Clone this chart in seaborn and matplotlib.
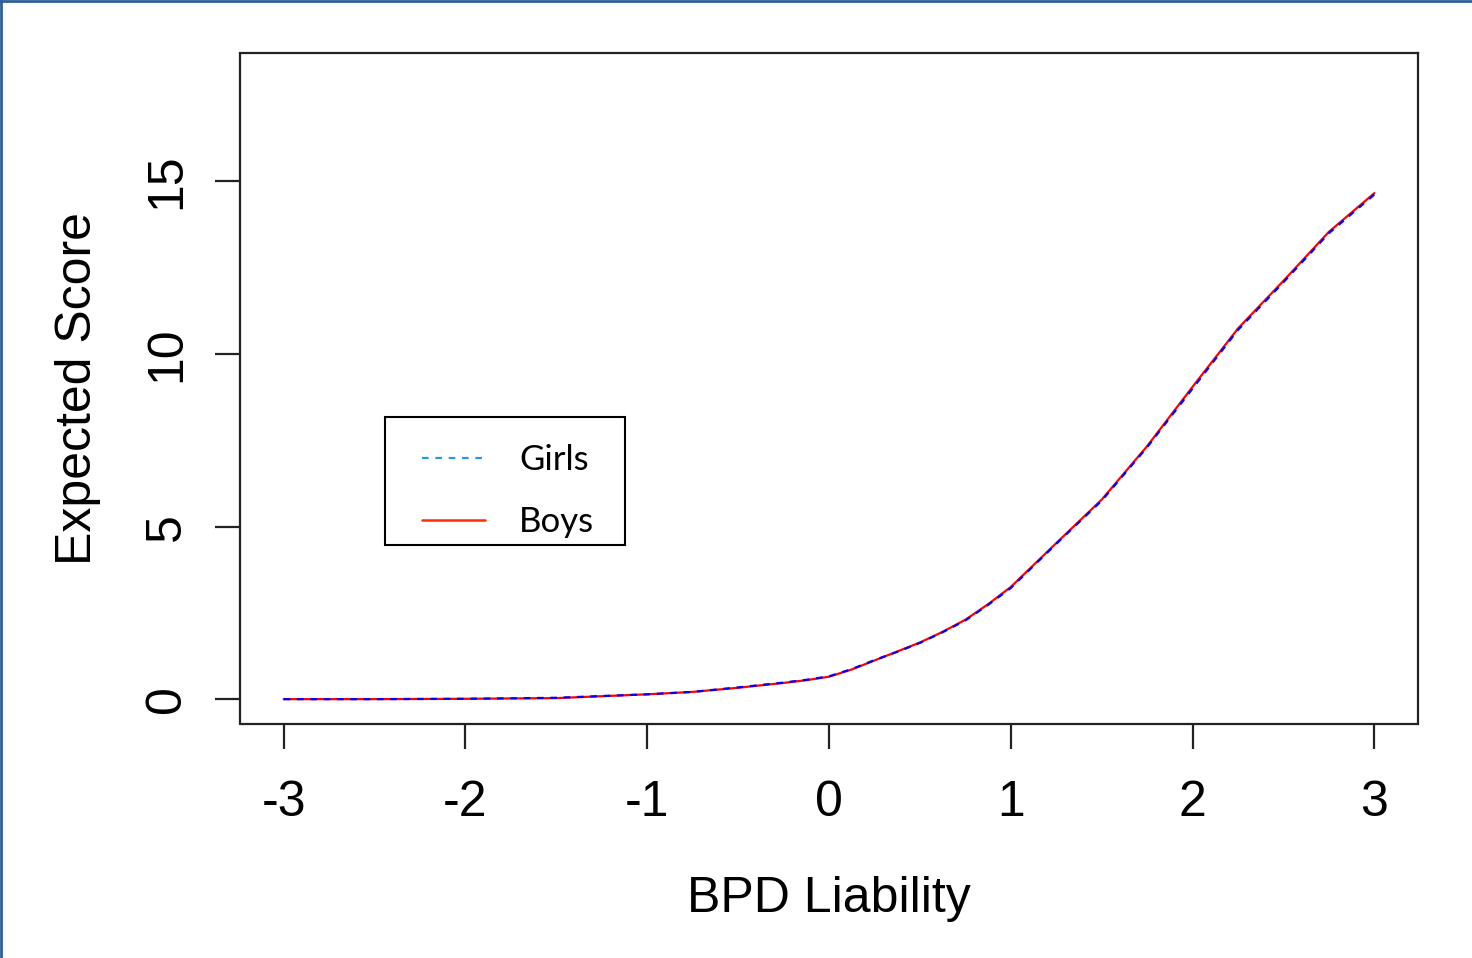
import pandas as pd
import matplotlib.pyplot as plt
import seaborn as sns
from matplotlib.lines import Line2D
from matplotlib.patches import Rectangle

sns.set_style("white")
plt.rcParams['font.family'] = ['Liberation Sans', 'DejaVu Sans']
plt.rcParams['text.color'] = 'black'
plt.rcParams['axes.labelcolor'] = 'black'
plt.rcParams['xtick.color'] = 'black'
plt.rcParams['ytick.color'] = 'black'

# Data
liability = [-3, -2.5, -2, -1.5, -1, -0.75, -0.5, -0.25, -0.125, 0, 0.125, 0.25,
             0.375, 0.5, 0.625, 0.75, 0.875, 1, 1.25, 1.5, 1.75, 2, 2.25, 2.5,
             2.75, 3]
boys = [0, 0, 0.01, 0.03, 0.14, 0.21, 0.33, 0.47, 0.55, 0.65, 0.86, 1.12,
        1.38, 1.64, 1.95, 2.3, 2.75, 3.25, 4.52, 5.78, 7.33, 9.05, 10.74, 12.12,
        13.54, 14.66]
girls = [0, 0, 0.01, 0.04, 0.14, 0.21, 0.34, 0.48, 0.56, 0.66, 0.87, 1.13,
         1.37, 1.63, 1.94, 2.28, 2.73, 3.22, 4.5, 5.75, 7.3, 9.0, 10.7, 12.08,
         13.5, 14.62]

df = pd.DataFrame({'x': liability, 'Boys': boys, 'Girls': girls})

fig = plt.figure(figsize=(14.72, 9.58), dpi=100)
ax = fig.add_axes([240/1472, 1-724/958, (1418-240)/1472, (724-53)/958])

sns.lineplot(data=df, x='x', y='Boys', ax=ax, color='#ff0000', linewidth=1.6)
sns.lineplot(data=df, x='x', y='Girls', ax=ax, color='#0000ff', linewidth=1.6,
             linestyle=(0, (3, 3)))

ax.set_xlim(-3.24, 3.24)
ax.set_ylim(-0.72, 18.72)
ax.set_xticks([-3, -2, -1, 0, 1, 2, 3])
ax.set_yticks([0, 5, 10, 15])
ax.set_xticklabels(['-3', '-2', '-1', '0', '1', '2', '3'])
ax.set_yticklabels(['0', '5', '10', '15'], rotation=90, va='center')

for s in ax.spines.values():
    s.set_color('#222222')
    s.set_linewidth(1.6)
ax.spines['bottom'].set_visible(False)
ax.spines['left'].set_visible(False)
ax.plot([-3.24, 3.24], [-0.72, -0.72], color='#222222', lw=1.6, clip_on=False)
ax.plot([-3.24, -3.24], [-0.72, 18.72], color='#222222', lw=1.6, clip_on=False)

ax.tick_params(axis='both', direction='out', length=18, width=1.6,
               color='#222222', labelsize=36, bottom=True, left=True)
ax.tick_params(axis='x', pad=22)
ax.tick_params(axis='y', pad=18)
ax.set_xlabel('BPD Liability', fontsize=36, labelpad=36)
ax.set_ylabel('Expected Score', fontsize=36, labelpad=31)

# legend (pasted box in the original, Calibri-like font)
ax.add_patch(Rectangle((385/1472, 1-545/958), 240/1472, 128/958,
                       transform=fig.transFigure, facecolor='white',
                       edgecolor='black', lw=1.5, zorder=4, clip_on=False))
handles = [Line2D([], [], color='#2b9ad9', lw=1.6, linestyle=(0, (3, 3))),
           Line2D([], [], color='#ff2a0a', lw=1.8)]
leg = ax.legend(handles, ['Girls', 'Boys'], loc='upper left',
                bbox_to_anchor=(422/1472, 1-444/958), bbox_transform=fig.transFigure,
                prop={'family': 'Lato', 'size': 25}, handlelength=1.8,
                handletextpad=1.0, labelspacing=0.86, borderpad=0,
                borderaxespad=0, frameon=False)
leg.set_zorder(5)

# blue frame of the slide at left and top
fig.add_artist(Line2D([0.001, 0.001], [0, 1], color='#2e5f9a', lw=2, transform=fig.transFigure))
fig.add_artist(Line2D([0, 1], [0.999, 0.999], color='#2e5f9a', lw=2, transform=fig.transFigure))

fig.savefig('out.png', dpi=100)
